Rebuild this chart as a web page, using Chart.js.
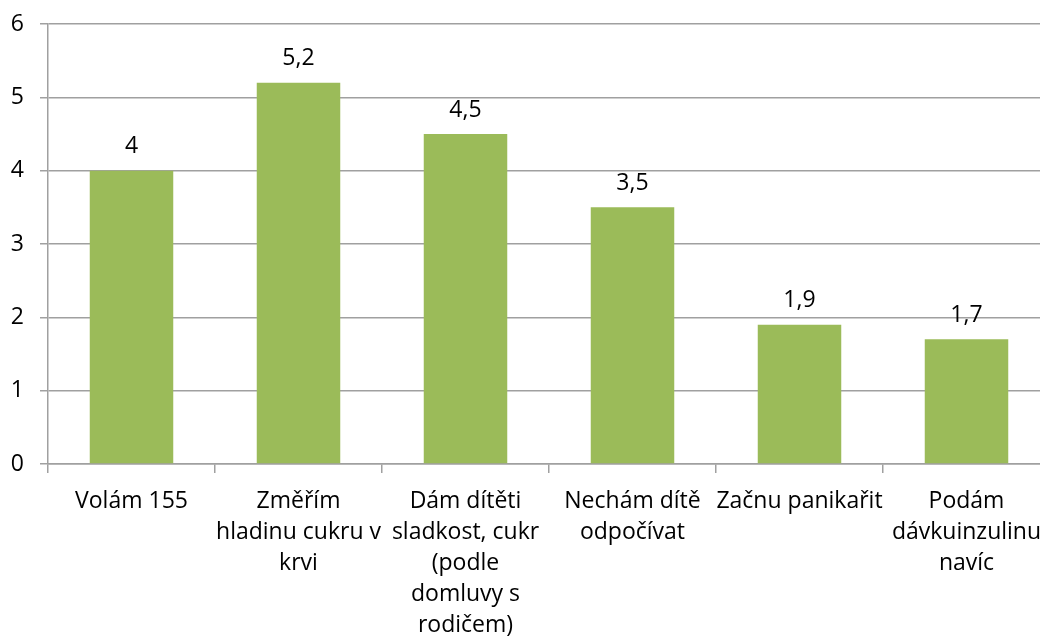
<!DOCTYPE html>
<html>
<head>
<meta charset="utf-8">
<script src="https://cdn.jsdelivr.net/npm/chart.js@4/dist/chart.umd.min.js"></script>
<style>
  html, body { margin: 0; padding: 0; background: #fff; overflow: hidden; }
  #wrap { width: 1040px; height: 639px; overflow: hidden; }
</style>
</head>
<body>
<div id="wrap"><canvas id="barChart" width="1062" height="639"></canvas></div>
<script>
const categories = [
  ["Volám 155"],
  ["Změřím", "hladinu cukru v", "krvi"],
  ["Dám dítěti", "sladkost, cukr", "(podle", "domluvy s", "rodičem)"],
  ["Nechám dítě", "odpočívat"],
  ["Začnu panikařit"],
  ["Podám", "dávkuinzulinu", "navíc"],
];
const values = [4, 5.2, 4.5, 3.5, 1.9, 1.7];
const yTicks = [0, 1, 2, 3, 4, 5, 6];

const FONT = { family: "'Open Sans', 'Noto Sans', sans-serif", size: 23 };
const GRID = "#a0a0a0";

// draws the numbers above the bars, with a decimal comma
const valueLabels = {
  id: "valueLabels",
  afterDatasetsDraw(chart) {
    const ctx = chart.ctx;
    const meta = chart.getDatasetMeta(0);
    ctx.save();
    ctx.font = `${FONT.size}px ${FONT.family}`;
    ctx.fillStyle = "#000";
    ctx.textAlign = "center";
    ctx.textBaseline = "middle";
    meta.data.forEach((bar, i) => {
      const text = String(values[i]).replace(".", ",");
      ctx.fillText(text, bar.x, bar.y - 24);
    });
    ctx.restore();
  },
};

const ctx = document.getElementById("barChart").getContext("2d");
new Chart(ctx, {
  type: "bar",
  data: {
    labels: categories,
    datasets: [
      {
        data: values,
        backgroundColor: "#9bbb59",
        barPercentage: 0.5,
        categoryPercentage: 1,
      },
    ],
  },
  options: {
    responsive: false,
    animation: false,
    layout: { padding: { top: 24, right: 12, left: 0, bottom: 0 } },
    plugins: {
      legend: { display: false },
      tooltip: { enabled: false },
    },
    scales: {
      x: {
        grid: {
          display: true,
          drawOnChartArea: false,
          drawTicks: true,
          tickLength: 9,
          color: GRID,
          lineWidth: 1.5,
        },
        border: { display: true, color: GRID, width: 1.5 },
        ticks: {
          color: "#000",
          font: { ...FONT, lineHeight: "31px" },
          padding: 13,
          maxRotation: 0,
          autoSkip: false,
        },
        afterFit(scale) { scale.height = 175; },
      },
      y: {
        min: 0,
        max: 6,
        afterBuildTicks(scale) {
          scale.ticks = yTicks.map((v) => ({ value: v }));
        },
        grid: {
          color: GRID,
          lineWidth: 1.5,
          tickLength: 8,
        },
        border: { display: true, color: GRID, width: 1.5 },
        ticks: {
          color: "#000",
          font: FONT,
          padding: 16,
        },
        afterFit(scale) {
          scale.width = 48;
          // tick padding would otherwise push the plot top down
          scale.paddingTop = 12;
        },
      },
    },
  },
  plugins: [valueLabels],
});
</script>
</body>
</html>
